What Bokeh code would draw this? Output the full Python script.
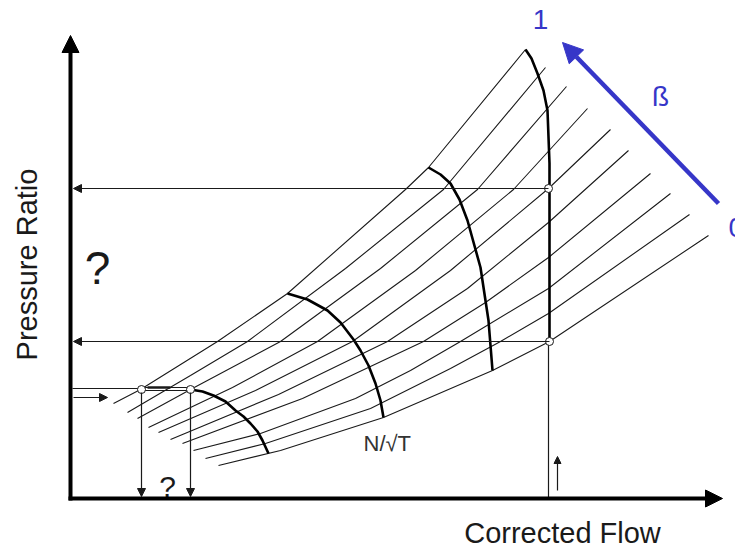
from math import pi
from bokeh.plotting import figure
from bokeh.models import Range1d, Arrow, NormalHead
from bokeh.core.properties import value
from bokeh.embed import file_html
from bokeh.resources import INLINE

# ---- data (in picture coordinates) ----
# constant-beta lines, from beta = 1 (top, surge side) to beta = 0 (bottom)
beta_x = [
    [113, 140, 217, 287, 405, 428, 525],
    [127, 190, 247, 345, 443, 545],
    [137, 190, 280, 380, 477, 566],
    [148, 232, 317, 415, 513, 587],
    [158, 255, 352, 450, 548, 610],
    [170, 278, 387, 467, 548, 628],
    [182, 302, 423, 485, 548, 650],
    [193, 260, 355, 410, 460, 548, 670],
    [205, 265, 370, 450, 500, 548, 689],
    [218, 280, 383, 492, 549, 708],
]
beta_y = [
    [403, 389, 341, 293, 189, 167, 49],
    [412, 375, 341, 268, 189, 67],
    [418, 389, 341, 268, 189, 86],
    [427, 387, 341, 270, 189, 108],
    [432, 390, 341, 270, 188, 129],
    [439, 394, 341, 288, 222, 150],
    [443, 398, 341, 302, 257, 173],
    [450, 433, 398, 370, 341, 288, 193],
    [458, 443, 408, 368, 341, 313, 214],
    [465, 450, 417, 370, 341, 235],
]
# corrected speed lines N/sqrt(T)
speed_x = [
    [525, 531, 537, 543, 547, 549, 549],
    [428, 440, 450, 459, 467, 480, 488, 492],
    [287, 307, 327, 340, 353, 360, 368, 375, 380, 383],
    [190, 202, 213, 225, 235, 243, 250, 257, 262, 268],
]
speed_y = [
    [49, 58, 73, 90, 110, 163, 341],
    [167, 174, 183, 199, 220, 267, 320, 370],
    [293, 299, 310, 322, 339, 350, 365, 383, 400, 417],
    [389, 391, 395, 401, 410, 416, 423, 431, 440, 453],
]
# operating points (open circles)
pt_x = [141, 190, 548, 549]
pt_y = [389, 389, 188, 341]

# ---- figure ----
W, H = 735, 546
p = figure(width=W, height=H, x_range=Range1d(0, W), y_range=Range1d(H, 0),
           output_backend="svg", toolbar_location=None, min_border=0,
           x_axis_location=None, y_axis_location=None)
p.grid.visible = False
p.outline_line_color = None
p.background_fill_color = "white"
p.border_fill_color = "white"

INK = "#1a1a1a"
BLUE = "#3636c8"

# thin construction lines
p.line([548, 548], [341, 498], line_color=INK, line_width=1.2)
p.line([72, 141], [388, 388], line_color=INK, line_width=1.2)
p.line([141, 190], [387, 387], line_color=INK, line_width=1.2)
p.line([141, 190], [390, 390], line_color=INK, line_width=1.2)
p.line([147, 170], [387, 387], line_color=INK, line_width=2.5)

# beta lines
p.multi_line(beta_x, beta_y, line_color=INK, line_width=1.1)
# speed lines
p.multi_line(speed_x, speed_y, line_color="black", line_width=2.6, line_join="round")

def arrow(x0, y0, x1, y1, w, size, color=INK):
    p.add_layout(Arrow(end=NormalHead(size=size, fill_color=color, line_color=color, line_width=1),
                       x_start=x0, y_start=y0, x_end=x1, y_end=y1,
                       line_color=color, line_width=w))

# read-off arrows
arrow(548, 188, 73, 188, 1.2, 8)
arrow(549, 341, 73, 341, 1.2, 8)
arrow(141, 392, 141, 496, 1.2, 8)
arrow(190, 392, 190, 496, 1.2, 8)
arrow(73, 397, 107, 397, 1.2, 8)
arrow(557, 490, 557, 456, 1.2, 7)

# main axes
arrow(70, 500, 70, 35, 4, 17, "black")
arrow(68, 498, 722, 498, 4, 17, "black")

# beta arrow
arrow(718, 203, 562, 42, 4.5, 20, BLUE)

# operating points
p.scatter(pt_x, pt_y, size=8, marker="circle", fill_color="white", line_color=INK, line_width=1)

font = value("Liberation Sans")
p.text(x=[26], y=[264], text=["Pressure Ratio"], angle=pi / 2, text_font=font,
       text_font_size="29px", text_align="center", text_baseline="alphabetic", text_color=INK)
p.text(x=[562], y=[532], text=["Corrected Flow"], text_font=font,
       text_font_size="29px", text_align="center", text_baseline="alphabetic", text_color=INK)
p.text(x=[363], y=[443], text=["N/\u221aT"], text_font=font,
       text_font_size="22px", text_align="left", text_baseline="alphabetic", text_color="#333333")
p.text(x=[97, 167], y=[267, 486], text=["?", "?"], text_font=font,
       text_font_size=["46px", "30px"], text_align="center", text_baseline="alphabetic", text_color=INK)
p.text(x=[540, 660], y=[19, 96], text=["1", "\u00df"], text_font=font,
       text_font_size="28px", text_align="center", text_baseline="alphabetic", text_color=BLUE)
p.text(x=[728], y=[227], text=["0"], text_font=font,
       text_font_size="28px", text_align="left", text_baseline="alphabetic", text_color=BLUE)

open("out.html", "w").write(file_html(p, INLINE))
